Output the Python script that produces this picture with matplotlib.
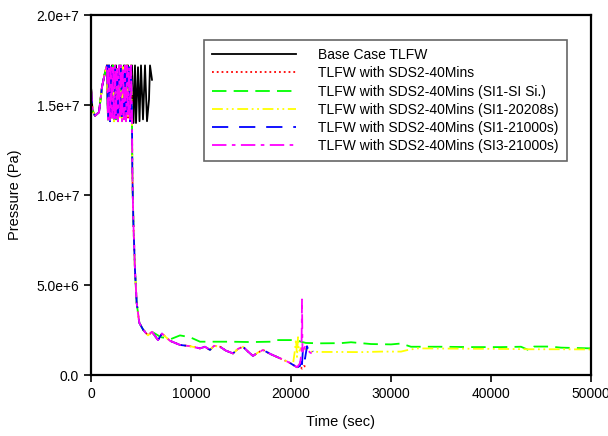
import matplotlib.pyplot as plt
import numpy as np

plt.rcParams['font.family'] = ['Liberation Sans', 'DejaVu Sans']

# ---- data (pressure in units of 1e6 Pa, time in s) ----
# common start-up part shared by all runs
t_start = [0, 150, 400, 800, 1100, 1400, 1600]
p_start = [16.0, 14.7, 14.4, 14.6, 16.0, 16.8, 17.2]

# fast oscillation before the pressure drop
t_osc = [1700, 1800, 1900, 2000, 2100, 2200, 2300, 2400, 2500, 2600, 2700, 2800,
         2900, 3000, 3100, 3200, 3300, 3400, 3500, 3600, 3700, 3800, 3900, 4000, 4100]
p_osc = [14.2, 17.2, 14.1, 17.1, 14.3, 17.2, 14.1, 17.2, 14.2, 17.0, 14.1, 17.2,
         14.3, 17.2, 14.1, 17.1, 14.2, 17.2, 14.1, 17.2, 14.3, 17.1, 14.1, 17.2, 14.2]

# the drop (all SDS runs)
t_drop = [4130, 4230, 4400, 4570, 4830, 5230]
p_drop = [11.4, 8.6, 5.8, 4.0, 2.9, 2.5]

# slow decay, shared by the runs that keep going down
t_mid = [5700, 6100, 6700, 7100, 7900, 8900, 9900, 10900, 11400, 11900, 12300,
         12900, 13500, 14200, 14700, 15200, 15700, 16200, 16700, 17200, 18000,
         18900, 19800, 20600]
p_mid = [2.2, 2.4, 1.94, 2.3, 1.9, 1.67, 1.6, 1.48, 1.57, 1.39, 1.62,
         1.57, 1.35, 1.2, 1.45, 1.57, 1.3, 1.06, 1.25, 1.39, 1.15,
         0.93, 0.7, 0.43]

# Base case TLFW
t_base = [2100, 2300, 2500, 2700, 2900, 3100, 3300, 3500, 3700, 3900, 4100,
          4250, 4400, 4500, 4700, 4850, 5000, 5200, 5400, 5600, 5800, 5900, 6100]
p_base = [17.2, 14.1, 17.2, 14.1, 17.2, 14.1, 17.2, 14.1, 17.2, 14.1, 17.2,
          14.0, 17.2, 14.0, 17.1, 14.1, 17.2, 14.2, 17.2, 14.1, 15.3, 17.2, 16.4]

# end parts of the individual runs
t_red_end = [20900, 21100, 21300, 21500]
p_red_end = [0.5, 0.35, 0.5, 0.45]

t_green = [5700, 6100, 7000, 8000, 8900, 9900, 10900, 12000, 14000, 16000, 18000,
           18400, 20500, 21000, 21500, 23000, 25000, 26000, 28000, 30000, 31000,
           32000, 35000, 38000, 41000, 43000, 43900, 44300, 45900, 47000, 50000]
p_green = [2.3, 2.4, 2.1, 2.0, 2.2, 2.1, 1.85, 1.85, 1.85, 1.83, 1.85,
           1.94, 1.94, 1.85, 1.78, 1.76, 1.77, 1.82, 1.72, 1.70, 1.75,
           1.57, 1.57, 1.55, 1.55, 1.57, 1.35, 1.58, 1.58, 1.52, 1.48]

t_yellow_end = [20200, 20400, 20500, 20600, 20700, 20800, 21000, 21500, 22000, 23000,
                25000, 27000, 29000, 31000, 31600, 32600, 35000, 38000, 41000, 44000,
                47000, 50000]
p_yellow_end = [0.6, 1.4, 2.0, 1.0, 2.1, 1.3, 1.5, 1.45, 1.3, 1.28,
                1.28, 1.27, 1.3, 1.3, 1.38, 1.48, 1.47, 1.46, 1.45, 1.43,
                1.43, 1.42]

t_blue_end = [20900, 21000, 21100, 21200, 21400, 21600, 21800, 22000, 22200]
p_blue_end = [0.5, 1.0, 0.6, 1.5, 0.9, 1.6, 1.3, 1.5, 1.3]

t_mag_end = [20900, 21050, 21100, 21150, 21400, 21900, 22400]
p_mag_end = [0.65, 1.2, 4.2, 1.3, 1.57, 1.25, 1.11]

labels = ['Base Case TLFW',
          'TLFW with SDS2-40Mins',
          'TLFW with SDS2-40Mins (SI1-SI Si.)',
          'TLFW with SDS2-40Mins (SI1-20208s)',
          'TLFW with SDS2-40Mins (SI1-21000s)',
          'TLFW with SDS2-40Mins (SI3-21000s)']


def run(*parts):
    t = np.concatenate([p[0] for p in parts])
    p = np.concatenate([p[1] for p in parts])
    return t, p * 1e6


head = [(t_start, p_start), (t_osc, p_osc), (t_drop, p_drop)]
base = run((t_start, p_start), (t_osc[:3], p_osc[:3]), (t_base, p_base))
red = run(*head, (t_mid, p_mid), (t_red_end, p_red_end))
green = run(*head, (t_green, p_green))
yellow = run(*head, (t_mid[:-3], p_mid[:-3]), (t_yellow_end, p_yellow_end))
blue = run(*head, (t_mid, p_mid), (t_blue_end, p_blue_end))
mag = run(*head, (t_mid, p_mid), (t_mag_end, p_mag_end))

fig = plt.figure(figsize=(6.08, 4.36), dpi=100)
ax = fig.add_axes([91/608, 61/436, 500/608, 360/436])

lw = 1.3
ax.plot(*base, color='black', lw=lw, label=labels[0])
ax.plot(*red, color='red', lw=lw, ls=':', label=labels[1])
ax.plot(*green, color='#00ff00', lw=lw, ls=(0, (8, 4)), label=labels[2])
ax.plot(*yellow, color='#ffff00', lw=lw, ls=(0, (6, 2, 1, 2, 1, 2)), label=labels[3])
ax.plot(*blue, color='blue', lw=lw, ls=(0, (9, 6)), label=labels[4])
ax.plot(*mag, color='magenta', lw=lw, ls=(0, (8, 3, 2, 3)), label=labels[5])

ax.set_xlim(0, 50000)
ax.set_ylim(0, 2e7)
ax.set_xticks([0, 10000, 20000, 30000, 40000, 50000])
ax.set_xticklabels(['0', '10000', '20000', '30000', '40000', '50000'])
ax.set_yticks([0, 5e6, 1e7, 1.5e7, 2e7])
ax.set_yticklabels(['0.0', '5.0e+6', '1.0e+7', '1.5e+7', '2.0e+7'])
ax.tick_params(direction='out', length=5, width=1.2, labelsize=10, colors='black')
for s in ax.spines.values():
    s.set_linewidth(1.6)

ax.set_xlabel('Time (sec)', fontsize=10.5, labelpad=10)
ax.set_ylabel('Pressure (Pa)', fontsize=10.5, labelpad=10)

leg = ax.legend(loc='upper right', bbox_to_anchor=(0.952, 0.931), fontsize=10,
                frameon=True, fancybox=False, handlelength=6.0, handletextpad=1.6,
                labelspacing=0.3, borderpad=0.6, borderaxespad=0)
leg.get_frame().set_edgecolor('#404040')
leg.get_frame().set_linewidth(1.2)

plt.savefig('out.png', dpi=100)
